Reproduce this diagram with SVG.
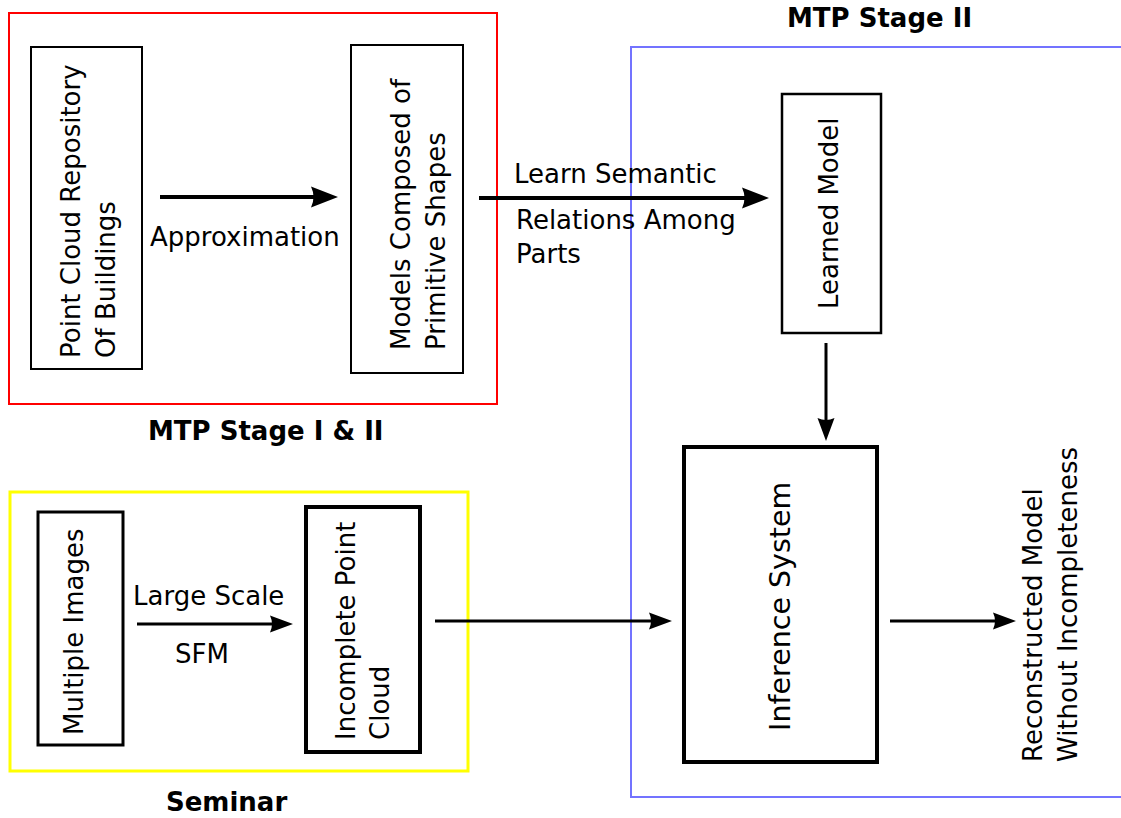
<svg xmlns="http://www.w3.org/2000/svg" width="1121" height="818" viewBox="0 0 1121 818">
<style>
text{font-family:"DejaVu Sans","Liberation Sans",sans-serif;font-size:26px;fill:#000}
.title{font-weight:bold}
.box{fill:none;stroke:#000}
.edge{fill:none;stroke:#000}
</style>
<defs>
<marker id="bigHead" markerUnits="userSpaceOnUse" viewBox="-20 -12 36 24" refX="0" refY="0" markerWidth="36" markerHeight="24" orient="auto" overflow="visible">
<path d="M10,0 L-17,-10.5 Q-12,0 -17,10.5 Z" fill="#000"/>
</marker>
<marker id="smallHead" markerUnits="userSpaceOnUse" viewBox="-20 -10 32 20" refX="0" refY="0" markerWidth="32" markerHeight="20" orient="auto" overflow="visible">
<path d="M8,0 L-15,-8.5 Q-11,0 -15,8.5 Z" fill="#000"/>
</marker>
</defs>
<rect width="1121" height="818" fill="#fff"/>
<g id="containers">
<rect x="9" y="13" width="488" height="391" fill="none" stroke="#ff0000" stroke-width="2"/>
<path d="M1121,47 H631 V797 H1121" fill="none" stroke="#7373ff" stroke-width="2"/>
<rect x="10" y="492" width="458" height="279" fill="none" stroke="#ffff00" stroke-width="3"/>
<text class="title" x="148" y="440">MTP Stage I &amp; II</text>
<text class="title" x="787" y="27">MTP Stage II</text>
<text class="title" x="166" y="811">Seminar</text>
</g>
<g id="connectors">
<line class="edge" x1="160" y1="197" x2="328" y2="197" stroke-width="4" marker-end="url(#bigHead)"/>
<line class="edge" x1="479" y1="198" x2="759" y2="198" stroke-width="4" marker-end="url(#bigHead)"/>
<line class="edge" x1="826" y1="343" x2="826" y2="433" stroke-width="3" marker-end="url(#smallHead)"/>
<line class="edge" x1="137" y1="624" x2="285" y2="624" stroke-width="3" marker-end="url(#smallHead)"/>
<line class="edge" x1="435" y1="621" x2="664" y2="621" stroke-width="3" marker-end="url(#smallHead)"/>
<line class="edge" x1="890" y1="621" x2="1008" y2="621" stroke-width="3" marker-end="url(#smallHead)"/>
<text x="150" y="246">Approximation</text>
<text x="514" y="183">Learn Semantic</text>
<text x="516" y="229">Relations Among</text>
<text x="516" y="263">Parts</text>
<text x="133" y="605">Large Scale</text>
<text x="175" y="663">SFM</text>
</g>
<g id="point-cloud-repository">
<rect class="box" x="31" y="47" width="111" height="322" stroke-width="2"/>
<text transform="translate(80,358) rotate(-90)">Point Cloud Repository</text>
<text transform="translate(115,358) rotate(-90)">Of Buildings</text>
</g>
<g id="models-composed">
<rect class="box" x="351" y="45" width="112" height="328" stroke-width="2"/>
<text transform="translate(410,350) rotate(-90)">Models Composed of</text>
<text transform="translate(445,350) rotate(-90)">Primitive Shapes</text>
</g>
<g id="learned-model">
<rect class="box" x="782" y="94" width="99" height="239" stroke-width="2.5"/>
<text transform="translate(838,309) rotate(-90)">Learned Model</text>
</g>
<g id="multiple-images">
<rect class="box" x="38" y="512" width="85" height="233" stroke-width="3"/>
<text transform="translate(83,735) rotate(-90)">Multiple Images</text>
</g>
<g id="incomplete-point-cloud">
<rect class="box" x="306" y="507" width="114" height="245" stroke-width="4"/>
<text transform="translate(355,740) rotate(-90)">Incomplete Point</text>
<text transform="translate(389,740) rotate(-90)">Cloud</text>
</g>
<g id="inference-system">
<rect class="box" x="684" y="447" width="193" height="315" stroke-width="4"/>
<text transform="translate(790,731) rotate(-90)" style="font-size:28.5px">Inference System</text>
</g>
<g id="reconstructed-model">
<text transform="translate(1042,762) rotate(-90)">Reconstructed Model</text>
<text transform="translate(1077,762) rotate(-90)">Without Incompleteness</text>
</g>
</svg>
